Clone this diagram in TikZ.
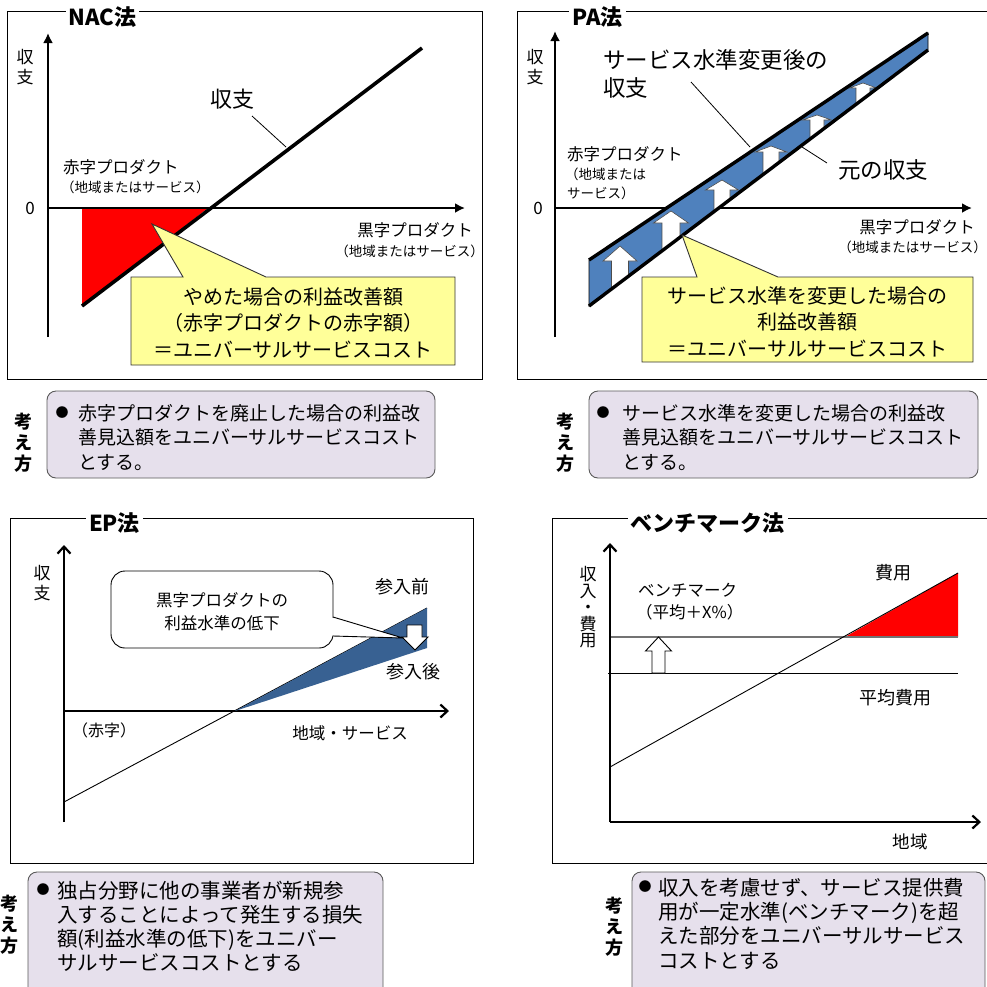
\documentclass[tikz,border=0pt]{standalone}
\usepackage{fontspec}
\setmainfont{Noto Sans CJK JP}
\usetikzlibrary{arrows.meta}
\newcommand{\fsz}[2]{\fontsize{#1}{#2}\selectfont}
\newcommand{\paarrow}[6]{%
  \draw[paarr] (#1-#5,#3) -- (#1,#2) -- (#1+#5,#3) -- (#1+#6,#3) -- (#1+#6,#4) -- (#1-#6,#4) -- (#1-#6,#3) -- cycle;}
\definecolor{ylw}{HTML}{FFFF99}
\definecolor{pablue}{HTML}{4F81BD}
\definecolor{epblue}{HTML}{386192}
\definecolor{lav}{HTML}{E6E0EC}
\definecolor{boxline}{HTML}{595959}
\tikzset{
  frame/.style={draw=black, line width=0.9pt},
  ttl/.style={fill=white, inner sep=3pt, font=\bfseries\fsz{22}{25}},
  lbl/.style={inner sep=0pt},
  axisA/.style={line width=2.6pt, -{Latex[length=10pt,width=10pt]}},
  axisB/.style={line width=2.2pt, -{Straight Barb[length=7pt,width=13pt]}},
  callout/.style={draw=black!80, line width=0.9pt, fill=ylw},
  notebox/.style={draw=boxline, line width=0.9pt, fill=lav, rounded corners=9pt},
  paarr/.style={draw=black!70, line width=0.6pt, fill=white},
  leader/.style={line width=0.8pt},
  vlab/.style={inner sep=0pt, align=center, font=\fsz{17}{20}},
  kangae/.style={inner sep=0pt, align=center, font=\bfseries\fsz{18}{21}},
  bul/.style={inner sep=0pt, font=\fsz{13}{15}},
  notetext/.style={inner sep=0pt, align=left, anchor=west}
}
\begin{document}
\begin{tikzpicture}[x=1pt,y=-1pt]
\useasboundingbox (0,0) rectangle (987,986);
\clip (0,0) rectangle (987,986);

%================ NAC =================
\draw[frame] (7,11) rectangle (482,379);
\node[ttl] (nacT) at (102.5,17) {NAC法};
\node[vlab] (nacY) at (25,67) {収\\支};
\node[lbl, font=\fsz{17}{20}] (nac0) at (30,208) {0};
\fill[red] (82,208) -- (208,208) -- (82,306) -- cycle;
\draw[axisA] (48,337) -- (48,33);
\draw[axisA] (48,208) -- (465,208);
\coordinate (nacA) at (82,306);
\coordinate (nacB) at (422,48);
\draw[line width=3.6pt] (nacA) -- (nacB);
\node[lbl, font=\fsz{22}{26}] (nacL) at (232.5,99) {収支};
\coordinate (nacL1) at (252,116);
\coordinate (nacL2) at (286,147);
\draw[leader] (nacL1) -- (nacL2);
\node[lbl, anchor=west, font=\fsz{16.5}{19}] (nacR1) at (63,167) {赤字プロダクト};
\node[lbl, anchor=west, font=\fsz{13.5}{16}] (nacR2) at (61,187) {（地域またはサービス）};
\node[lbl, anchor=east, font=\fsz{16.5}{19}] (nacK1) at (473,230) {黒字プロダクト};
\node[lbl, anchor=east, font=\fsz{13.5}{16}] (nacK2) at (484,251) {（地域またはサービス）};
\draw[callout] (131,277) -- (183,277) -- (152,224) -- (266,277) -- (455,277) -- (455,365) -- (131,365) -- cycle;
\node[lbl, align=center, font=\fsz{20}{26.5}] (nacC) at (293,323) {やめた場合の利益改善額\\（赤字プロダクトの赤字額）\\＝ユニバーサルサービスコスト};

%================ PA =================
\draw[frame] (517,11) rectangle (987,379);
\node[ttl] (paT) at (597.5,17) {PA法};
\node[vlab] (paY) at (535,67) {収\\支};
\node[lbl, font=\fsz{17}{20}] (pa0) at (538,208) {0};
\draw[axisA] (555,337) -- (555,31);
\draw[axisA] (555,208) -- (972,208);
\draw[fill=pablue, draw=black, line width=0.8pt] (589,260) -- (928,33) -- (928,50) -- (589,306) -- cycle;
\begin{scope}
  \clip (589,260) -- (928,33) -- (928,50) -- (589,306) -- cycle;
  \paarrow{620}{246}{261}{290}{17}{8.5}
  \paarrow{671}{211}{223}{250}{17.5}{9}
  \paarrow{722}{180}{190}{215}{16.5}{8}
  \paarrow{771}{146}{152}{178}{16}{8}
  \paarrow{817}{115}{120}{142}{14.5}{7}
  \paarrow{863}{83}{88}{108}{13.5}{7}
\end{scope}
\coordinate (paU1) at (589,260);
\coordinate (paU2) at (928,33);
\coordinate (paL1) at (589,306);
\coordinate (paL2) at (928,50);
\draw[line width=3.4pt] (paU1) -- (paU2);
\draw[line width=3.4pt] (paL1) -- (paL2);
\node[lbl, anchor=west, font=\fsz{22.5}{28}] (paN1) at (603,60) {サービス水準変更後の};
\node[lbl, anchor=west, font=\fsz{22.5}{28}] (paN2) at (603,88) {収支};
\coordinate (paN3) at (691,82);
\coordinate (paN4) at (750,147);
\draw[leader] (paN3) -- (paN4);
\node[lbl, anchor=west, font=\fsz{22.5}{28}] (paO) at (838,170) {元の収支};
\coordinate (paO1) at (802,147);
\coordinate (paO2) at (827,163);
\draw[leader] (paO1) -- (paO2);
\node[lbl, anchor=west, font=\fsz{16.5}{19}] (paR1) at (567,154) {赤字プロダクト};
\node[lbl, anchor=west, font=\fsz{13.5}{16}] (paR2) at (565,174) {（地域または};
\node[lbl, anchor=west, font=\fsz{13.5}{16}] (paR3) at (567,193) {サービス）};
\node[lbl, anchor=east, font=\fsz{16.5}{19}] (paK1) at (975,227) {黒字プロダクト};
\node[lbl, anchor=east, font=\fsz{13.5}{16}] (paK2) at (987,247) {（地域またはサービス）};
\draw[callout] (642,277) -- (697,277) -- (682,235) -- (778,277) -- (973,277) -- (973,362) -- (642,362) -- cycle;
\node[lbl, align=center, font=\fsz{20}{26.5}] (paC) at (807.5,322) {サービス水準を変更した場合の\\利益改善額\\＝ユニバーサルサービスコスト};

%================ notes row 1 =================
\node[kangae] (k1) at (23,443) {考\\え\\方};
\draw[notebox] (47,391) rectangle (435,478);
\node[bul] (b1) at (62,413) {●};
\node[notetext, font=\fsz{19}{24.5}] (t1) at (78,437.5) {赤字プロダクトを廃止した場合の利益改\\善見込額をユニバーサルサービスコスト\\とする。};

\node[kangae] (k2) at (565,443) {考\\え\\方};
\draw[notebox] (589,391) rectangle (978,478);
\node[bul] (b2) at (603,413) {●};
\node[notetext, font=\fsz{19}{24.5}] (t2) at (622,437.5) {サービス水準を変更した場合の利益改\\善見込額をユニバーサルサービスコスト\\とする。};

%================ EP =================
\draw[frame] (10,518) rectangle (473,863);
\node[ttl] (epT) at (114.5,523) {EP法};
\node[vlab] (epY) at (42,583.5) {収\\支};
\draw[axisB] (64,822) -- (64,545);
\draw[axisB] (64,711) -- (449,711);
\coordinate (epA) at (64,802);
\coordinate (epB) at (427,608);
\draw[line width=0.9pt] (epA) -- (epB);
\fill[epblue] (235,711) -- (427,608) -- (427,648) -- cycle;
\draw[draw=black, line width=0.9pt, fill=white, rounded corners=14pt] (111,571) rectangle (333,648);
\fill[white] (331.5,617.5) -- (403,638) -- (331.5,635.5) -- cycle;
\coordinate (epP1) at (333,617);
\coordinate (epP2) at (403,638);
\coordinate (epP3) at (333,636);
\draw[line width=0.9pt] (epP1) -- (epP2) -- (epP3);
\node[lbl, align=center, font=\fsz{16.5}{23}] (epC) at (222,611.5) {黒字プロダクトの\\利益水準の低下};
\draw[fill=white, line width=0.9pt] (407,625) -- (422,625) -- (422,637) -- (428,637) -- (415,650) -- (402,637) -- (407,637) -- cycle;
\node[lbl, font=\fsz{18}{21}] (epBef) at (402,587) {参入前};
\node[lbl, font=\fsz{18}{21}] (epAft) at (413,672) {参入後};
\node[lbl, anchor=west, font=\fsz{16}{19}] (epRed) at (72,730) {（赤字）};
\node[lbl, font=\fsz{16.5}{19}] (epX) at (350,733) {地域・サービス};

%================ Benchmark =================
\draw[frame] (552,518) rectangle (987.5,863);
\node[ttl] (bmT) at (707.5,523) {ベンチマーク法};
\node[inner sep=0pt, align=center, font=\fsz{17}{16.5}] (bmY) at (588,607.5) {収\\入\\・\\費\\用};
\fill[red] (845,637) -- (958,573) -- (958,637) -- cycle;
\coordinate (bmL1) at (610,637);
\coordinate (bmL2) at (958,637);
\draw[line width=1.4pt, draw=black!55] (bmL1) -- (bmL2);
\coordinate (bmM1) at (608,673);
\coordinate (bmM2) at (958,673);
\draw[line width=0.9pt] (bmM1) -- (bmM2);
\coordinate (bmD1) at (610,767);
\coordinate (bmD2) at (958,573);
\draw[line width=0.9pt] (bmD1) -- (bmD2);
\draw[axisB] (610,822) -- (610,543);
\draw[axisB] (610,822) -- (981,822);
\draw[fill=white, line width=0.9pt] (652,673) -- (652,651) -- (645.5,651) -- (658.5,637) -- (671.5,651) -- (665,651) -- (665,673) -- cycle;
\node[lbl, anchor=west, font=\fsz{16.5}{19}] (bmB1) at (638,590) {ベンチマーク};
\node[lbl, anchor=west, font=\fsz{16.5}{19}] (bmB2) at (636,612) {（平均＋X\%）};
\node[lbl, font=\fsz{18}{21}] (bmC) at (893,573) {費用};
\node[lbl, font=\fsz{18}{21}] (bmAvg) at (895,698) {平均費用};
\node[lbl, font=\fsz{17.5}{20}] (bmX) at (910,842) {地域};

%================ notes row 2 =================
\node[kangae] (k3) at (9,925) {考\\え\\方};
\draw[notebox] (28,872) rectangle (383,1000);
\node[bul] (b3) at (43,890) {●};
\node[notetext, font=\fsz{20.5}{24}] (t3) at (57,926) {独占分野に他の事業者が新規参\\入することによって発生する損失\\額(利益水準の低下)をユニバー\\サルサービスコストとする};

\node[kangae] (k4) at (614,927) {考\\え\\方};
\draw[notebox] (632,872) rectangle (985,1000);
\node[bul] (b4) at (645,887) {●};
\node[notetext, font=\fsz{20.5}{24.3}] (t4) at (658,923.5) {収入を考慮せず、サービス提供費\\用が一定水準(ベンチマーク)を超\\えた部分をユニバーサルサービス\\コストとする};
\end{tikzpicture}
\end{document}
